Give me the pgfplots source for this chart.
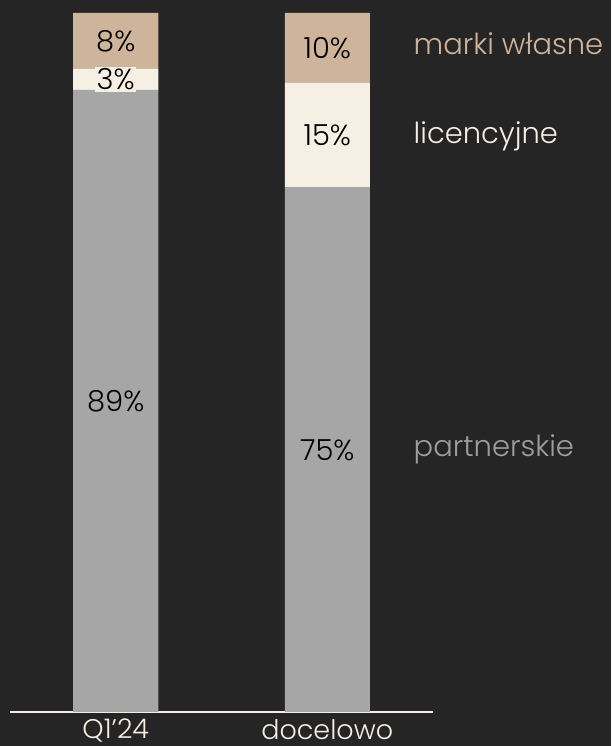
\documentclass[border=0pt]{standalone}
\usepackage{fontspec}
\setmainfont{Poppins}[UprightFont=* Light]
\usepackage{pgfplots}
\pgfplotsset{compat=1.18}
\definecolor{cBg}{HTML}{252525}
\definecolor{cTan}{HTML}{CDB49B}
\definecolor{cCream}{HTML}{F5EFE4}
\definecolor{cGray}{HTML}{A6A6A6}
\definecolor{cGrayTxt}{HTML}{9E9E9E}
\begin{document}
\begin{tikzpicture}
\fill[cBg] (-10pt,-34pt) rectangle (601pt,712pt);
\useasboundingbox (-10pt,-34pt) rectangle (601pt,712pt);
\begin{axis}[
  at={(0pt,0pt)}, anchor=south west,
  scale only axis, width=423pt, height=699pt,
  ybar stacked, bar width=85pt,
  xmin=-0.5, xmax=1.5, ymin=0, ymax=100,
  axis y line=none,
  axis x line*=bottom,
  x axis line style={cCream, line width=1.2pt, -},
  xtick={0,1}, xticklabels={{Q1’24}, {docelowo}},
  major tick length=0pt,
  xticklabel style={text=cCream, font=\fontsize{27}{30}\selectfont, inner sep=0pt, yshift=-7pt},
  clip=false,
]
\addplot[fill=cGray, draw=none] coordinates {(0,89) (1,75)};
\addplot[fill=cCream, draw=none] coordinates {(0,3) (1,15)};
\addplot[fill=cTan, draw=none] coordinates {(0,8) (1,10)};
\coordinate (a1) at (axis cs:0,44.5);
\coordinate (a2) at (axis cs:0,90.5);
\coordinate (a3) at (axis cs:0,96);
\coordinate (b1) at (axis cs:1,37.5);
\coordinate (b2) at (axis cs:1,82.5);
\coordinate (b3) at (axis cs:1,95);
\coordinate (l1) at (axis cs:1.408,95.6);
\coordinate (l2) at (axis cs:1.408,82.3);
\coordinate (l3) at (axis cs:1.408,37.6);
\end{axis}
\begin{scope}[every node/.style={font=\fontsize{29}{32}\selectfont, text=black}]
\node at (a1) {89\%};
\node[fill=cCream, inner sep=1.5pt] at (a2) {3\%};
\node at (a3) {8\%};
\node at (b1) {75\%};
\node at (b2) {15\%};
\node at (b3) {10\%};
\end{scope}
\begin{scope}[every node/.style={font=\fontsize{29}{32}\selectfont, anchor=west, inner sep=0pt}]
\node[text=cTan] at (l1) {marki własne};
\node[text=cCream] at (l2) {licencyjne};
\node[text=cGrayTxt] at (l3) {partnerskie};
\end{scope}
\end{tikzpicture}
\end{document}
